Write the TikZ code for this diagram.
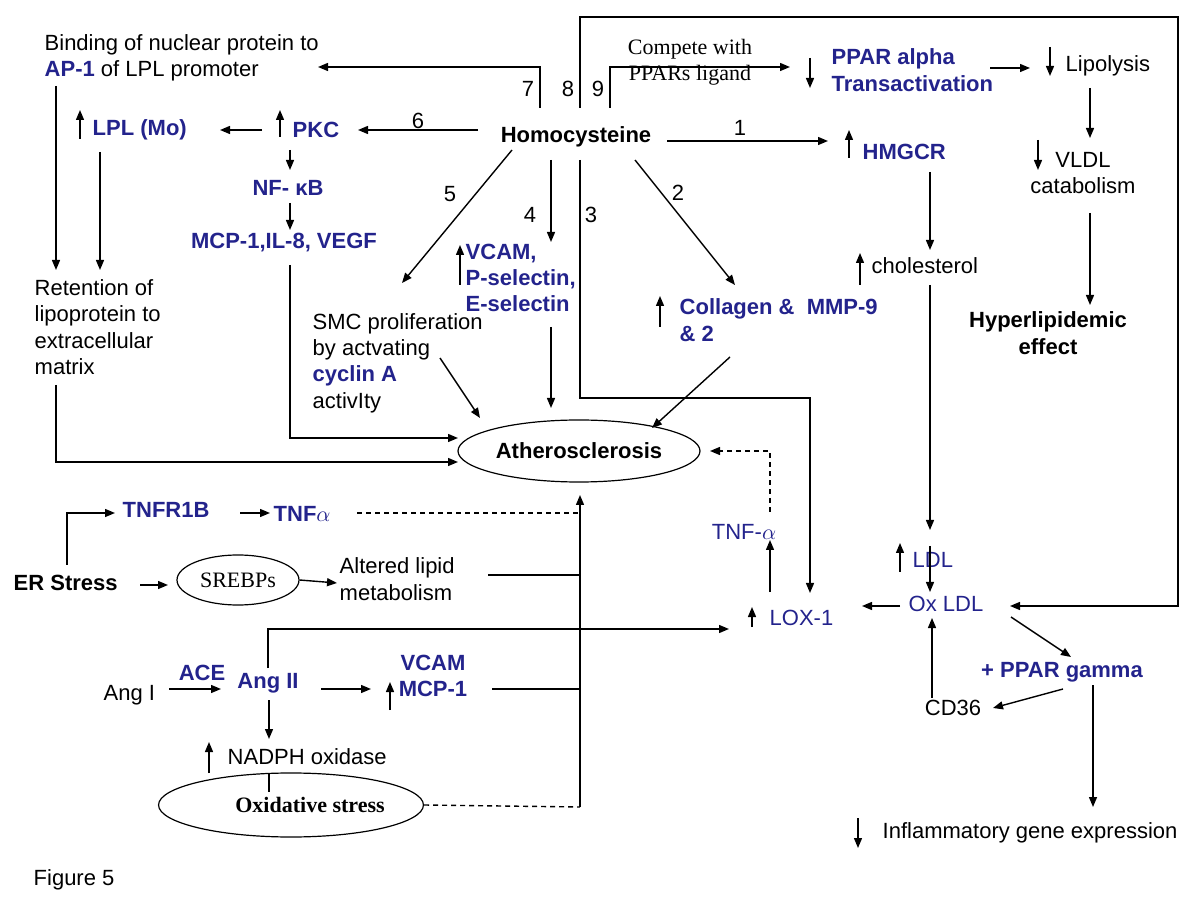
\documentclass[tikz,border=0pt]{standalone}
\usepackage{fontspec}
\setmainfont{Liberation Sans}
\newfontfamily\timesfont{Liberation Serif}
\usetikzlibrary{arrows.meta,shapes.geometric}
\definecolor{hcblue}{RGB}{35,35,140}

\begin{document}
\begin{tikzpicture}[x=0.5pt, y=-0.5pt, line width=0.7pt,
    >={Triangle[length=5pt,width=4pt]},
    lbl/.style={inner sep=0pt, align=left, font=\fontsize{11}{13.2}\selectfont},
    blu/.style={lbl, text=hcblue, font=\fontsize{11}{13.2}\selectfont\bfseries},
    blr/.style={lbl, text=hcblue},
    bld/.style={lbl, font=\fontsize{11}{13.2}\selectfont\bfseries},
    tms/.style={inner sep=0pt, align=center, font=\timesfont\fontsize{11}{13}\selectfont},
    oval/.style={draw, ellipse, line width=0.6pt, inner sep=0pt},
    dsh/.style={dash pattern=on 2.5pt off 2pt}]

\useasboundingbox (0,0) rectangle (1200,919);

% central node and its numbered pathways
\node[bld] (homo) at (576,137) {Homocysteine};
\node[lbl] (n1) at (740,128) {1};
\node[lbl] (n2) at (678,193) {2};
\node[lbl] (n3) at (591,215) {3};
\node[lbl] (n4) at (530,215) {4};
\node[lbl] (n5) at (450,194) {5};
\node[lbl] (n6) at (418,121) {6};
\node[lbl] (n7) at (528,89) {7};
\node[lbl] (n8) at (568,89) {8};
\node[lbl] (n9) at (598,89) {9};

\coordinate (h1) at (667,141);
\coordinate (h2) at (635,160);
\coordinate (h3) at (580,160);
\coordinate (h4) at (551,160);
\coordinate (h5) at (512,150);
\coordinate (h6) at (478,130);
\coordinate (h7) at (540,108);
\coordinate (h8) at (580,108);
\coordinate (h9) at (610,108);

% left branch
\node[lbl, anchor=west] (bind) at (44,58)
    {Binding of nuclear protein to\\\textcolor{hcblue}{\textbf{AP-1}} of LPL promoter};
\node[blu, anchor=west] (lplmo) at (92,130) {LPL (Mo)};
\node[blu, anchor=west] (pkc) at (292,130) {PKC};
\node[blu] (nfkb) at (288,188) {NF- κB};
\node[blu] (mcp) at (284,243) {MCP-1,IL-8, VEGF};
\node[lbl, anchor=west] (ret) at (34,327)
    {Retention of\\lipoprotein to\\extracellular\\matrix};
\node[lbl, anchor=west] (smc) at (312,363)
    {SMC proliferation\\by actvating\\\textcolor{hcblue}{\textbf{cyclin A}}\\activIty};
\node[blu, anchor=west] (vcam) at (465,278) {VCAM,\\P-selectin,\\E-selectin};
\node[blu, anchor=west] (coll) at (679,320) {Collagen \&\ \ MMP-9\\\& 2};

% right branch
\node[tms] (compete) at (690,62) {Compete with\\PPARs ligand};
\node[blu, anchor=west] (ppara) at (831,70) {PPAR alpha\\Transactivation};
\node[lbl, anchor=west] (lipo) at (1065,66) {Lipolysis};
\node[lbl, align=center] (vldl) at (1083,173) {VLDL\\catabolism};
\node[bld, align=center] (hyper) at (1048,333) {Hyperlipidemic\\effect};
\node[blu, anchor=west] (hmgcr) at (862,152) {HMGCR};
\node[lbl, anchor=west] (chol) at (871,266) {cholesterol};
\node[blr, anchor=west] (ldl) at (912,560) {LDL};
\node[blr] (oxldl) at (946,604) {Ox LDL};
\node[blu] (pparg) at (1062,672) {+ PPAR gamma};
\node[lbl] (cd36) at (953,708) {CD36};
\node[lbl, anchor=west] (inflam) at (882,833) {Inflammatory gene expression};
\node[blr, anchor=west] (lox) at (769,618) {LOX-1};
\node[blr] (tnfb) at (744,532) {TNF-$\alpha$};

\node[oval, minimum width=121pt, minimum height=31pt,
      font=\fontsize{11}{13}\selectfont\bfseries] (ath) at (579,451) {Atherosclerosis};

% lower left
\node[blu, anchor=west] (tnfr) at (122,510) {TNFR1B};
\node[blu, anchor=west] (tnfa) at (273,514) {TNF$\alpha$};
\node[bld, anchor=west] (er) at (13,583) {ER Stress};
\node[oval, tms, minimum width=61pt, minimum height=25pt] (srebp) at (238,580) {SREBPs};
\node[lbl, anchor=west] (altered) at (339,579) {Altered lipid\\metabolism};
\node[lbl, anchor=west] (angi) at (103,695) {Ang I};
\node[blu] (ace) at (202,673) {ACE};
\node[blu] (angii) at (268,683) {Ang II};
\node[blu, align=center] (vcamb) at (433,676) {VCAM\\MCP-1};
\node[lbl, anchor=west] (nadph) at (227,757) {NADPH oxidase};
\node[oval, minimum width=122pt, minimum height=32pt,
      font=\timesfont\fontsize{11}{13}\selectfont\bfseries] (oxs) at (291,805)
    {\hspace*{19pt}Oxidative stress};
\node[lbl, anchor=west] (fig) at (33,880) {Figure 5};

% up / down markers
\draw[->] (80,139) -- (80,110);
\draw[->] (280,137) -- (280,110);
\draw[->] (460,285) -- (460,245);
\draw[->] (660,327) -- (660,296);
\draw[->] (810,58) -- (810,88);
\draw[->] (1050,47) -- (1050,76);
\draw[->] (1038,140) -- (1038,170);
\draw[->] (849,158) -- (849,130);
\draw[->] (860,285) -- (860,253);
\draw[->] (900,572) -- (900,543);
\draw[->] (752,627) -- (752,607);
\draw[->] (390,710) -- (390,682);
\draw[->] (209,773) -- (209,742);
\draw[->] (858,818) -- (858,848);

% pathways from homocysteine
\draw[->] (h1) -- (828,141);
\draw[->] (h2) -- (735,285);
\draw[->] (h3) -- (580,398) -- (810,398) -- (810,593);
\draw[->] (h4) -- (551,242);
\draw[->] (h5) -- (402,283);
\draw[->] (h6) -- (358,130);
\draw[->] (h7) -- (540,67) -- (318,67);
\draw[->] (h8) -- (580,17) -- (1178,17) -- (1178,606) -- (1010,606);
\draw[->] (h9) -- (610,67) -- (790,67);

% left cascade
\draw[->] (262,130) -- (220,130);
\draw[->] (290,150) -- (290,170);
\draw[->] (290,203) -- (290,230);
\draw[->] (290,265) -- (290,438) -- (458,438);
\draw[->] (56,86) -- (56,270);
\draw[->] (100,152) -- (100,270);
\draw[->] (56,385) -- (56,462) -- (458,462);
\draw[->] (440,358) -- (480,418);
\draw[->] (551,327) -- (551,408);
\draw[->] (730,357) -- (652,428);

% right cascade
\draw[->] (990,68) -- (1030,68);
\draw[->] (1090,88) -- (1090,138);
\draw[->] (1090,213) -- (1090,305);
\draw[->] (930,172) -- (930,250);
\draw[->] (930,285) -- (930,530);
\draw[->] (930,546) -- (930,592);
\draw[->] (900,606) -- (862,606);
\draw[->] (1011,617) -- (1071,657);
\draw[->] (1063,689) -- (993,708);
\draw[->] (932,698) -- (932,618);
\draw[->] (1093,685) -- (1093,807);
\draw[->] (770,592) -- (770,540);
\draw[->, dsh] (770,512) -- (770,451) -- (710,451);

% lower left inputs
\draw[->] (67,565) -- (67,513) -- (115,513);
\draw[->] (240,513) -- (270,513);
\draw[dsh] (357,513) -- (580,513);
\draw[->] (140,585) -- (168,585);
\draw[->] (srebp.east) -- (337,583);
\draw (488,575) -- (580,575);
\draw[->] (580,807) -- (580,495);
\draw (492,689) -- (580,689);
\draw[dsh] (oxs.east) -- (580,807);
\draw[->] (268,668) -- (268,629) -- (729,629);
\draw[->] (169,689) -- (221,689);
\draw[->] (321,689) -- (371,689);
\draw[->] (269,700) -- (269,739);
\draw (269,773) -- (269,792);

\end{tikzpicture}
\end{document}
